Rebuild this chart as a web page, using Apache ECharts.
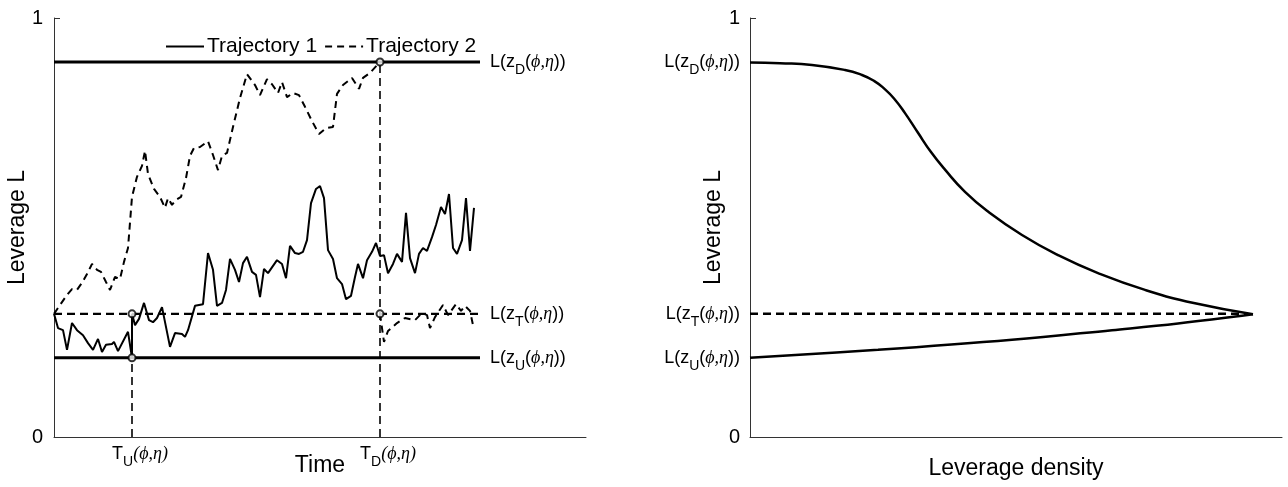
<!DOCTYPE html>
<html><head><meta charset="utf-8">
<script src="https://cdn.jsdelivr.net/npm/echarts@6/dist/echarts.min.js"></script>
<style>html,body{margin:0;padding:0;background:#fff}#c{width:1288px;height:487px}</style>
</head><body><div id="c"></div>
<script>
// ---- levels (leverage) ----
const levelD = 0.895, levelT = 0.294, levelU = 0.189;
// ---- time marks ----
const timeTU = 78, timeTD = 326, timeEnd = 426, timeMax = 532;
const yTicks = [0, 1];
// ---- trajectory 1 ----
const traj1Time = [0,4,9,13,18,23,29,34,39,44,48,52,58,60,64,74,78,78,81,85,90,95,99,103,108,116,121,128,131,134,141,149,154,159,163,168,172,176,181,185,189,193,198,202,206,210,214,223,228,232,236,241,245,249,253,257,262,266,270,274,279,283,288,292,297,301,304,309,313,318,322,326,330,334,339,343,348,352,356,361,365,369,373,378,382,387,391,395,399,403,408,412,416,420];
const traj1Lev = [0.294,0.260,0.255,0.208,0.272,0.255,0.243,0.224,0.208,0.234,0.203,0.220,0.222,0.227,0.205,0.251,0.189,0.294,0.267,0.282,0.320,0.279,0.274,0.284,0.310,0.215,0.248,0.246,0.239,0.255,0.313,0.317,0.439,0.399,0.313,0.320,0.351,0.425,0.399,0.370,0.415,0.430,0.394,0.387,0.334,0.401,0.391,0.422,0.413,0.379,0.456,0.439,0.437,0.442,0.470,0.558,0.592,0.599,0.570,0.446,0.425,0.379,0.365,0.329,0.337,0.382,0.413,0.379,0.422,0.442,0.463,0.432,0.434,0.391,0.413,0.437,0.418,0.535,0.427,0.391,0.437,0.451,0.444,0.477,0.506,0.549,0.532,0.580,0.451,0.437,0.470,0.570,0.444,0.547];
// ---- trajectory 2 (before and after reset at T_D) ----
const traj2aTime = [0,8,13,18,23,28,33,38,43,47,52,56,61,66,70,74,78,83,88,91,94,100,106,111,114,118,122,127,132,136,140,146,154,159,164,168,173,179,186,193,201,206,213,218,224,228,233,239,245,251,258,265,272,279,283,289,298,305,309,316,326];
const traj2aLev = [0.294,0.322,0.339,0.353,0.351,0.368,0.389,0.413,0.399,0.394,0.370,0.351,0.382,0.377,0.418,0.451,0.573,0.621,0.647,0.683,0.628,0.592,0.573,0.547,0.570,0.554,0.566,0.573,0.618,0.671,0.690,0.692,0.706,0.673,0.637,0.671,0.678,0.740,0.809,0.866,0.840,0.816,0.854,0.842,0.821,0.847,0.811,0.821,0.816,0.788,0.754,0.723,0.737,0.740,0.819,0.840,0.857,0.831,0.857,0.869,0.895];
const traj2bTime = [326,328,330,334,343,351,361,368,373,376,381,389,394,402,407,411,416,419];
const traj2bLev = [0.294,0.260,0.227,0.253,0.272,0.284,0.279,0.296,0.291,0.260,0.286,0.315,0.291,0.317,0.301,0.313,0.301,0.267];
// ---- leverage density panel ----
const densMax = 532;
const upperDens = [0,30,62,95,112,124,134,144,155,168,181,195,215,238,272,308,348,395,445,503];
const upperLev  = [0.894,0.892,0.888,0.876,0.864,0.850,0.832,0.808,0.773,0.726,0.680,0.638,0.585,0.538,0.482,0.434,0.391,0.351,0.319,0.293];
const lowerDens = [0,128,262,362,428,503];
const lowerLev  = [0.189,0.208,0.232,0.255,0.271,0.293];
const targetDensEnd = 495;

const zip = (a, b) => a.map((v, i) => [v, b[i]]);
const FONT = 'Liberation Sans';
const rich = {
  n: {fontSize: 18, fontFamily: FONT, color: '#000'},
  s: {fontSize: 14, fontFamily: FONT, color: '#000', padding: [16, 0, 0, 0]},
  g: {fontSize: 18, fontFamily: 'Liberation Serif', fontStyle: 'italic', color: '#000'},
  b: {fontSize: 20, fontFamily: FONT, color: '#000'}
};
const levLabel = k => '{n|L(z}{s|' + k + '}{n|(}{g|ϕ,η}{n|))}';
const timeLabel = k => '{n|T}{s|' + k + '}{g|(ϕ,η)}';
const axisLineStyle = {color: '#333', width: 1};
const nameStyle = {fontSize: 23, fontFamily: FONT, color: '#000'};

const chart = echarts.init(document.getElementById('c'));
function levelSeries(val, dashed, key) {
  return {
    type: 'line', xAxisIndex: 0, yAxisIndex: 0, symbol: 'none', silent: true,
    data: [[0, val], [timeEnd, val]],
    lineStyle: {color: '#000', width: dashed ? 2.2 : 3, type: dashed ? [8, 5] : 'solid'},
    endLabel: {show: true, distance: 10, formatter: () => levLabel(key), rich: rich},
    z: 2
  };
}
chart.setOption({
  animation: false,
  backgroundColor: '#fff',
  textStyle: {fontFamily: FONT, color: '#000'},
  legend: {
    data: ['Trajectory 1', 'Trajectory 2'], left: 165, top: 36, padding: 0,
    itemWidth: 38, itemHeight: 14, itemGap: 7,
    itemStyle: {opacity: 0},
    textStyle: {fontSize: 21, fontFamily: FONT, color: '#000', padding: [0, 0, 0, -2]}
  },
  grid: [
    {left: 54, top: 18, width: 532, height: 419, outerBoundsMode: 'none', containLabel: false},
    {left: 750, top: 18, width: 532, height: 419, outerBoundsMode: 'none', containLabel: false}
  ],
  xAxis: [
    {type: 'value', gridIndex: 0, min: 0, max: timeMax, splitLine: {show: false},
     axisLine: {lineStyle: axisLineStyle}, axisTick: {show: false},
     axisLabel: {customValues: [timeTU, timeTD], formatter: v => timeLabel(v === timeTU ? 'U' : 'D'), rich: rich, margin: 2, padding: [0, 0, 0, 16]},
     name: 'Time', nameLocation: 'middle', nameGap: 17, nameMoveOverlap: false, nameTextStyle: nameStyle},
    {type: 'value', gridIndex: 1, min: 0, max: densMax, splitLine: {show: false},
     axisLine: {lineStyle: axisLineStyle}, axisTick: {show: false}, axisLabel: {show: false},
     name: 'Leverage density', nameLocation: 'middle', nameGap: 20, nameMoveOverlap: false, nameTextStyle: nameStyle}
  ],
  yAxis: [
    {type: 'value', gridIndex: 0, min: 0, max: 1, splitLine: {show: false},
     axisLine: {lineStyle: axisLineStyle},
     axisTick: {inside: true, length: 6, customValues: yTicks, lineStyle: axisLineStyle},
     axisLabel: {customValues: yTicks, fontSize: 20, color: '#000', fontFamily: FONT, margin: 11},
     name: 'Leverage L', nameLocation: 'middle', nameGap: 25, nameMoveOverlap: false, nameTextStyle: nameStyle},
    {type: 'value', gridIndex: 1, min: 0, max: 1, splitLine: {show: false},
     axisLine: {lineStyle: axisLineStyle},
     axisTick: {inside: true, length: 6, customValues: yTicks, lineStyle: axisLineStyle},
     axisLabel: {customValues: [0, levelU, levelT, levelD, 1], margin: 10, rich: rich,
       formatter: v => v === levelD ? levLabel('D') : v === levelT ? levLabel('T') : v === levelU ? levLabel('U') : '{b|' + v + '}'},
     name: 'Leverage L', nameLocation: 'middle', nameGap: 25, nameMoveOverlap: false, nameTextStyle: nameStyle}
  ],
  series: [
    levelSeries(levelD, false, 'D'),
    levelSeries(levelT, true, 'T'),
    levelSeries(levelU, false, 'U'),
    {type: 'line', xAxisIndex: 0, yAxisIndex: 0, symbol: 'none', silent: true,
     data: [[timeTU, 0], [timeTU, levelU]], lineStyle: {color: '#000', width: 1.6, type: [8, 5]}},
    {type: 'line', xAxisIndex: 0, yAxisIndex: 0, symbol: 'none', silent: true,
     data: [[timeTD, 0], [timeTD, levelD]], lineStyle: {color: '#000', width: 1.6, type: [8, 5]}},
    {name: 'Trajectory 1', type: 'line', xAxisIndex: 0, yAxisIndex: 0, symbol: 'none',
     data: zip(traj1Time, traj1Lev), lineStyle: {color: '#000', width: 2}, itemStyle: {color: '#000'}, z: 3},
    {name: 'Trajectory 2', type: 'line', xAxisIndex: 0, yAxisIndex: 0, symbol: 'none',
     data: zip(traj2aTime, traj2aLev).concat([[timeTD, '-']], zip(traj2bTime, traj2bLev)),
     lineStyle: {color: '#000', width: 2, type: [7, 5]}, itemStyle: {color: '#000'}, z: 3},
    {type: 'scatter', xAxisIndex: 0, yAxisIndex: 0, symbol: 'emptyCircle', symbolSize: 7, silent: true,
     data: [[timeTU, levelT], [timeTU, levelU], [timeTD, levelT], [timeTD, levelD]],
     itemStyle: {color: '#000', borderColor: '#000', borderWidth: 1.8}, z: 5},
    {type: 'line', xAxisIndex: 1, yAxisIndex: 1, symbol: 'none', smooth: 0.5, silent: true,
     data: zip(upperDens, upperLev), lineStyle: {color: '#000', width: 2.5}},
    {type: 'line', xAxisIndex: 1, yAxisIndex: 1, symbol: 'none', smooth: 0.4, silent: true,
     data: zip(lowerDens, lowerLev), lineStyle: {color: '#000', width: 2.5}},
    {type: 'line', xAxisIndex: 1, yAxisIndex: 1, symbol: 'none', silent: true,
     data: [[0, levelT], [targetDensEnd, levelT]], lineStyle: {color: '#000', width: 2.5, type: [8, 5]}}
  ]
});
</script></body></html>
